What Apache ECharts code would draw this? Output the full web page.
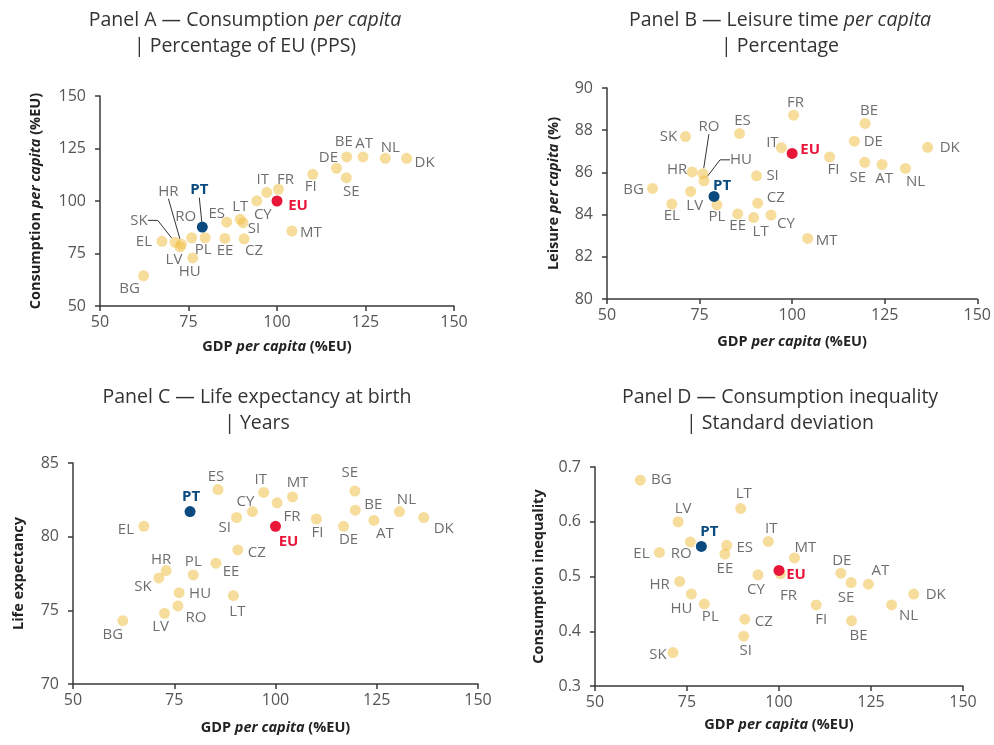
<!DOCTYPE html>
<html>
<head>
<meta charset="utf-8">
<script src="https://cdn.jsdelivr.net/npm/echarts@6/dist/echarts.min.js"></script>
<style>
  html, body { margin: 0; padding: 0; background: #fff; }
  #main { width: 994px; height: 745px; }
</style>
</head>
<body>
<div id="main"></div>
<script>
// country codes and GDP per capita (%EU) - same x for every panel
const countries = ['BG', 'EL', 'SK', 'HR', 'LV', 'HU', 'RO', 'PT', 'PL', 'EE', 'ES', 'LT', 'SI', 'CZ',
  'CY', 'IT', 'FR', 'EU', 'MT', 'FI', 'DE', 'SE', 'BE', 'AT', 'NL', 'DK']
const gdp = [62.3, 67.5, 71.2, 73.0, 72.6, 76.2, 75.9, 78.9, 79.7, 85.3, 85.8, 89.6, 90.4, 90.7,
  94.3, 97.1, 100.4, 100, 104.2, 110.1, 116.8, 119.6, 119.7, 124.3, 130.6, 136.6]

// Panel A: consumption per capita (%EU)
const consumption = [64.4, 80.8, 80.3, 79.4, 78.2, 72.9, 82.5, 87.6, 82.5, 82.2, 89.9, 91.3, 89.7, 82.0,
  100.1, 104.1, 105.6, 100, 85.7, 112.7, 115.6, 111.1, 121.0, 121.0, 120.3, 120.3]
// Panel B: leisure per capita (%)
const leisure = [85.24, 84.5, 87.7, 86.02, 85.1, 85.6, 85.94, 84.86, 84.46, 84.03, 87.84, 83.86, 85.84, 84.54,
  83.98, 87.17, 88.71, 86.9, 82.87, 86.73, 87.48, 86.48, 88.32, 86.38, 86.19, 87.19]
// Panel C: life expectancy at birth (years)
const lifeExpectancy = [74.3, 80.7, 77.2, 77.7, 74.8, 76.2, 75.3, 81.7, 77.4, 78.2, 83.2, 76.0, 81.3, 79.1,
  81.7, 83.0, 82.3, 80.7, 82.7, 81.2, 80.7, 83.1, 81.8, 81.1, 81.7, 81.3]
// Panel D: consumption inequality (standard deviation)
const inequality = [0.676, 0.544, 0.361, 0.491, 0.600, 0.468, 0.563, 0.555, 0.450, 0.541, 0.557, 0.624, 0.391, 0.422,
  0.503, 0.564, 0.505, 0.511, 0.534, 0.448, 0.506, 0.489, 0.419, 0.486, 0.448, 0.468]

const font = 'Open Sans'
const yellow = 'rgba(240,192,70,0.68)'
const blue = '#0B4A7E'
const red = '#E8173A'

// label offsets (px, from point centre to label centre)
const offA = {
  BG: [-14, 13], EL: [-18, 0], SK: [-36, -22], HR: [-13, -53], LV: [-6, 13], HU: [-3, 14], RO: [-6, -21],
  PT: [-3, -37], PL: [-2, 12], EE: [0, 12], ES: [-10, -8], LT: [0, -13], SI: [11, 6], CZ: [10, 12],
  CY: [6, 14], IT: [-4, -13], FR: [7, -10], EU: [21, 5], MT: [19, 2], FI: [-2, 12], DE: [-8, -11],
  BE: [-3, -15], SE: [5, 14], AT: [1, -13], NL: [5, -11], DK: [18, 4]
}
const offB = {
  BG: [-19, 1], EL: [0, 12], SK: [-17, 0], HR: [-15, -2], LV: [4, 14], RO: [6, -47], HU: [37, -21],
  PT: [8, -11], PL: [0, 12], EE: [0, 12], ES: [3, -13], LT: [7, 14], SI: [16, 0], CZ: [18, -5],
  CY: [15, 9], MT: [19, 2], IT: [-9, -5], EU: [18, -4], FR: [2, -12], FI: [4, 13], DE: [19, 1],
  BE: [4, -13], SE: [-7, 15], AT: [2, 14], NL: [10, 13], DK: [22, 0]
}
const offC = {
  BG: [-10, 14], EL: [-18, 3], SK: [-16, 9], HR: [-5, -11], LV: [-4, 13], HU: [21, 1], RO: [18, 12],
  PT: [1, -15], PL: [0, -13], EE: [15, 9], ES: [-2, -13], LT: [4, 16], SI: [-12, 10], CZ: [19, 3],
  CY: [-7, -10], IT: [-3, -13], FR: [15, 14], EU: [13, 15], MT: [5, -14], FI: [1, 14], DE: [5, 13],
  SE: [-5, -18], BE: [18, -5], AT: [11, 13], NL: [7, -12], DK: [20, 11]
}
const offD = {
  BG: [21, 0], LV: [5, -13], EL: [-18, 1], RO: [-9, 12], PT: [8, -15], HR: [-20, 3], HU: [-10, 15],
  PL: [6, 13], SK: [-15, 2], EE: [0, 15], ES: [18, 2], LT: [3, -15], CZ: [19, 3], SI: [2, 15],
  IT: [3, -13], CY: [-2, 15], MT: [11, -10], EU: [17, 4], FR: [8, 22], DE: [1, -12], SE: [-5, 15],
  AT: [12, -13], FI: [5, 15], BE: [7, 15], NL: [17, 11], DK: [22, 1]
}
// labels that get a leader line, with length of the straight part next to the label
const leadA = { SK: 10, HR: 0, PT: 0 }
const leadB = { RO: 0, HU: 10 }

function makeSeries(panel, yValues, offsets, leaders, highlight) {
  const names = []
  const data = []
  countries.forEach((c, i) => {
    const special = (c === 'PT' || c === 'EU')
    if (special !== highlight) return
    names.push(c)
    const item = { name: c, value: [gdp[i], yValues[i]] }
    if (special) {
      const col = c === 'PT' ? blue : red
      item.itemStyle = { color: col, opacity: 1 }
      item.label = { color: col, fontWeight: 'bold' }
    }
    if (leaders[c] !== undefined) {
      item.labelLine = { show: true, length2: leaders[c] }
    }
    data.push(item)
  })
  return {
    type: 'scatter',
    xAxisIndex: panel,
    yAxisIndex: panel,
    symbolSize: 11,
    z: highlight ? 4 : 2,
    itemStyle: { color: yellow },
    label: {
      show: true,
      position: 'inside',
      formatter: '{b}',
      color: '#4a4a4a',
      fontSize: 15,
      fontFamily: font
    },
    labelLine: { show: false, lineStyle: { color: '#333', width: 1 } },
    labelLayout: function (p) {
      const o = offsets[names[p.dataIndex]] || [0, 0]
      return { dx: o[0], dy: o[1] }
    },
    emphasis: { disabled: true },
    data: data
  }
}

const rich = {
  i: { fontStyle: 'italic', fontWeight: 'bold', fontSize: 14.5, fontFamily: font, color: '#222' }
}
const titleRich = {
  i: { fontStyle: 'italic', fontSize: 19.5, fontFamily: font, color: '#333', lineHeight: 26 }
}

function makeTitle(text, x, y) {
  return {
    text: text,
    left: x,
    top: y,
    textAlign: 'center',
    textStyle: { fontSize: 19.5, fontWeight: 'normal', color: '#333', fontFamily: font, lineHeight: 26, rich: titleRich }
  }
}

const grids = [
  { left: 100, top: 96, width: 354, height: 210 },
  { left: 607, top: 88, width: 371, height: 211 },
  { left: 73, top: 463, width: 405, height: 221 },
  { left: 595, top: 467, width: 368, height: 219 }
]

function axisCommon(margin) {
  return {
    axisLine: { show: true, onZero: false, lineStyle: { color: '#3a3a3a', width: 1.5 } },
    axisTick: { show: true, length: 5, lineStyle: { color: '#3a3a3a', width: 1.5 } },
    axisLabel: { color: '#555', fontSize: 16, fontFamily: font, margin: margin },
    splitLine: { show: false },
    nameTextStyle: { color: '#222', fontSize: 14.5, fontWeight: 'bold', fontFamily: font, rich: rich }
  }
}

function xAxis(i, gap) {
  return Object.assign(axisCommon(8), {
    type: 'value', gridIndex: i, min: 50, max: 150, interval: 25,
    name: 'GDP {i|per capita} (%EU)', nameLocation: 'middle', nameGap: gap
  })
}
function yAxis(i, min, max, interval, name, gap, fmt) {
  const a = Object.assign(axisCommon(14), {
    type: 'value', gridIndex: i, min: min, max: max, interval: interval,
    name: name, nameLocation: 'middle', nameGap: gap
  })
  if (fmt) a.axisLabel.formatter = fmt
  return a
}

const chart = echarts.init(document.getElementById('main'), null, { renderer: 'canvas' })

let option = {
  backgroundColor: '#ffffff',
  animation: false,
  title: [
    makeTitle('Panel A — Consumption {i|per capita}\n| Percentage of EU (PPS)', 240, 2),
    makeTitle('Panel B — Leisure time {i|per capita}\n| Percentage', 775, 2),
    makeTitle('Panel C — Life expectancy at birth\n| Years', 252, 379),
    makeTitle('Panel D — Consumption inequality\n| Standard deviation', 775, 379)
  ],
  grid: grids,
  xAxis: [xAxis(0, 33), xAxis(1, 35), xAxis(2, 36), xAxis(3, 31)],
  yAxis: [
    yAxis(0, 50, 150, 25, 'Consumption {i|per capita} (%EU)', 57),
    yAxis(1, 80, 90, 2, 'Leisure {i|per capita} (%)', 46),
    yAxis(2, 70, 85, 5, 'Life expectancy', 47),
    yAxis(3, 0.3, 0.7, 0.1, 'Consumption inequality', 49, v => v.toFixed(1))
  ],
  series: [
    makeSeries(0, consumption, offA, leadA, false),
    makeSeries(0, consumption, offA, leadA, true),
    makeSeries(1, leisure, offB, leadB, false),
    makeSeries(1, leisure, offB, leadB, true),
    makeSeries(2, lifeExpectancy, offC, {}, false),
    makeSeries(2, lifeExpectancy, offC, {}, true),
    makeSeries(3, inequality, offD, {}, false),
    makeSeries(3, inequality, offD, {}, true)
  ]
}

chart.setOption(option)
</script>
</body>
</html>
